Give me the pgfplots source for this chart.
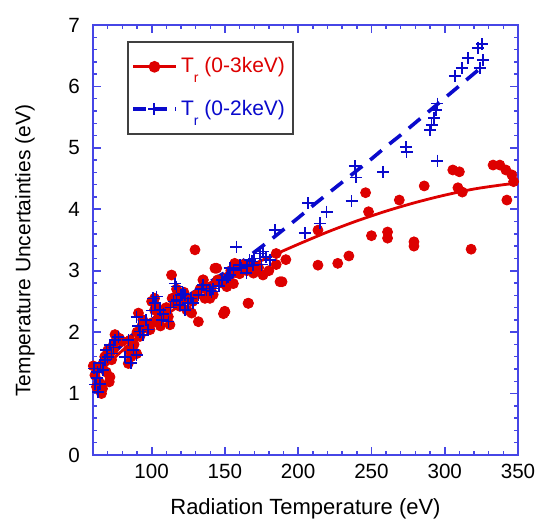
\documentclass[border=0pt]{standalone}
\usepackage{fontspec}
\setmainfont{Liberation Sans}
\usepackage{pgfplots}
\pgfplotsset{compat=1.18}
\usetikzlibrary{calc}
\definecolor{ptred}{HTML}{DD0000}
\definecolor{ptblue}{HTML}{0A0ACC}
\definecolor{axblue}{HTML}{4646E6}
\begin{document}
\begin{tikzpicture}
\begin{axis}[
  scale only axis, width=212.5pt, height=215pt,
  xmin=60, xmax=350, ymin=0, ymax=7,
  xtick={100,150,...,350}, minor xtick={60,70,...,340},
  ytick={0,1,...,7}, minor y tick num=4,
  axis line style={axblue, line width=0.9pt},
  major tick style={axblue, line width=0.9pt}, minor tick style={axblue, line width=0.7pt},
  major tick length=4pt, minor tick length=2.2pt,
  tick label style={font=\fontsize{10.3}{12}\selectfont, /pgf/number format/assume math mode=true},
  xticklabel style={yshift=-1pt},
  yticklabel style={xshift=-3pt},
  xlabel={Radiation Temperature (eV)},
  ylabel={Temperature Uncertainties (eV)},
  xlabel style={font=\fontsize{11}{13}\selectfont, at={(axis description cs:0.5,-0.125)}, anchor=center},
  ylabel style={font=\fontsize{10.5}{12}\selectfont, at={(axis description cs:-0.16,0.475)}, anchor=center},
  clip=false,
  legend style={at={(0.08,0.963)}, anchor=north west, draw=black!75, line width=0.8pt,
    font=\fontsize{10.5}{13}\selectfont, inner xsep=2pt, inner ysep=6pt,
    row sep=8pt, cells={anchor=west}},
  legend image code/.code={\draw[mark repeat=2, mark phase=2, #1] plot coordinates {(0cm,0cm) (0.37cm,0cm) (0.74cm,0cm)};},
]
\addlegendimage{ptred, line width=1.4pt, mark=*, mark size=2.2pt}
\addlegendentry{\textcolor{ptred}{T\raisebox{-0.9ex}{\scriptsize r} (0-3keV)}}
\addlegendimage{ptblue, line width=1.6pt, dash pattern=on 6.5pt off 4pt, mark=+, mark size=3pt, mark options={solid, line width=1pt}}
\addlegendentry{\textcolor{ptblue}{T\raisebox{-0.9ex}{\scriptsize r} (0-2keV)}}
% red points (0-3keV)
\addplot[only marks, mark=*, mark size=2.5pt, ptred, forget plot] coordinates {
(60.2,1.45)(61.3,1.30)(62.4,1.11)(65.8,1.00)(66.5,1.08)(71.6,1.27)(71.1,1.19)(72.7,1.55)
(73.9,1.71)(76.2,1.87)(75,1.96)(84.1,1.49)(84.1,1.71)(85.3,1.87)(89.8,1.65)(91,2.31)
(92,1.93)(93.2,2.09)(98.9,2.04)(102,2.55)(103.4,2.42)(102,2.36)(104.5,2.23)(112.5,2.12)
(111.4,2.25)(113.6,2.93)(116,2.47)(118.2,2.63)(121.6,2.58)(119.3,2.42)(124,2.36)(127.3,2.31)
(131.9,2.17)(136.4,2.55)(139.8,2.55)(142,2.61)(144.4,3.04)(150,2.33)(149,2.30)(151.3,2.74)
(155.8,2.79)(157,2.97)(161.6,3.09)(166.1,2.47)(169.5,2.96)(171.8,3.07)
(63,1.4)(64,1.2)(67,1.5)(68,1.6)(69,1.35)(70,1.7)(74,1.8)(78,1.9)(80,1.85)(86,1.6)(88,1.8)
(90,2.0)(94,2.2)(96,2.1)(100,2.5)(100,2.15)(106,2.1)(108,2.3)(110,2.4)(114,2.55)(117,2.7)
(120,2.5)(122,2.65)(125,2.55)(128,2.5)(130,2.6)(133,2.7)(135,2.85)(138,2.7)(141,2.75)
(145,2.85)(148,2.8)(152,2.9)(154,3.0)(158,3.05)(160,2.95)(163,3.1)(165,3.0)(168,3.12)
(173,3.05)(176,2.93)(180,3.0)(185,3.1)(187.6,2.82)(129.6,3.34)(143.2,3.04)(135.3,2.85)
(156.7,3.12)(165.8,2.47)(149.9,2.34)(140.8,2.66)(185,3.28)(191.6,3.18)
(189,2.82)(213.5,3.09)(227,3.12)(234.6,3.24)(250,3.57)(261,3.63)(261,3.53)(279,3.47)
(279,3.40)(213.5,3.66)(246,4.27)(248,3.96)(269,4.15)(286,4.38)(305.5,4.64)(310,4.61)
(309,4.35)(312,4.28)(318,3.35)(333,4.72)(337.6,4.72)(341.7,4.64)(345.8,4.56)(347,4.45)
(342.4,4.15)
};
% blue points (0-2keV)
\addplot[only marks, mark=+, mark size=3pt, ptblue, line width=0.8pt, forget plot] coordinates {
(60.7,1.41)(62.4,1.25)(63.5,1.03)(64.7,1.16)(66.9,1.38)(68,1.55)(69.2,1.71)(71.5,1.79)
(72.7,1.65)(75,1.87)(77.3,1.92)(81.9,1.60)(84.1,1.87)(87.5,1.71)(89.8,1.63)(89.8,2.25)
(92,2.01)(94.3,1.95)(97.7,2.04)(102.2,2.47)(103.4,2.58)(105.6,2.36)(106.8,2.2)(111.4,2.17)
(115.9,2.79)(117,2.74)(117,2.52)(122.7,2.61)(125,2.47)(119.3,2.44)(128.4,2.47)(122.7,2.36)
(137.5,2.68)(140.9,2.66)(142,2.71)(151.2,2.88)(153.5,2.93)(155.8,3.01)(160.4,3.09)(165,3.07)
(168.4,3.15)(61.5,1.15)(63,1.35)(65,1.5)(70,1.6)(74,1.75)(86,1.5)(91,2.1)(96,2.2)(100,2.35)
(101,2.55)(108,2.3)(113,2.4)(115,2.5)(120,2.6)(127,2.55)(132,2.6)(134,2.7)(146,2.75)(148,2.85)
(157.9,3.39)(176,3.31)(166.9,3.17)(180.6,3.17)(153.3,3.04)(152.2,2.9)(139.7,2.68)(135.2,2.77)
(121.6,2.63)(161.3,3.04)(169.3,3.09)(173.8,3.28)(164.7,2.96)(178,3.22)(175,3.1)(170,3.2)
(184.1,3.66)(204.6,3.61)(214.8,3.77)(206.9,4.10)(219.4,3.96)(236.5,4.13)(238.7,4.70)(239.4,4.52)
(258,4.61)(273.5,5.01)(274,4.93)(292.6,5.49)(294,5.62)(295,5.72)(291,5.37)(290,5.29)(295,4.79)
(306.9,6.17)(311.7,6.3)(315.8,6.46)(322.6,6.63)(325.4,6.69)(324,6.3)(326,6.43)
};
% fits
\addplot[ptred, line width=1.4pt, smooth, forget plot] coordinates {
(60,1.25)(80,1.7)(100,2.1)(120,2.45)(140,2.75)(160,3.0)(180,3.22)(200,3.43)(220,3.63)
(240,3.81)(260,3.97)(280,4.11)(300,4.23)(320,4.33)(340,4.40)(348,4.42)
};
\addplot[ptblue, line width=1.8pt, dash pattern=on 7.5pt off 5pt, smooth, forget plot] coordinates {
(62,1.3)(70,1.55)(80,1.8)(90,2.02)(100,2.2)(110,2.37)(120,2.52)(130,2.67)(140,2.82)(150,2.97)
(160,3.12)(170,3.3)(180,3.48)(190,3.67)(200,3.86)(210,4.06)(220,4.25)(230,4.44)(240,4.63)
(250,4.82)(260,5.02)(270,5.21)(280,5.41)(290,5.61)(300,5.81)(310,6.01)(320,6.21)(325,6.31)
};
\end{axis}
\pgfresetboundingbox
\path[use as bounding box] ($(current axis.south west)+(-46.5pt,-32pt)$) rectangle ($(current axis.north east)+(13pt,12.5pt)$);
\end{tikzpicture}
\end{document}
